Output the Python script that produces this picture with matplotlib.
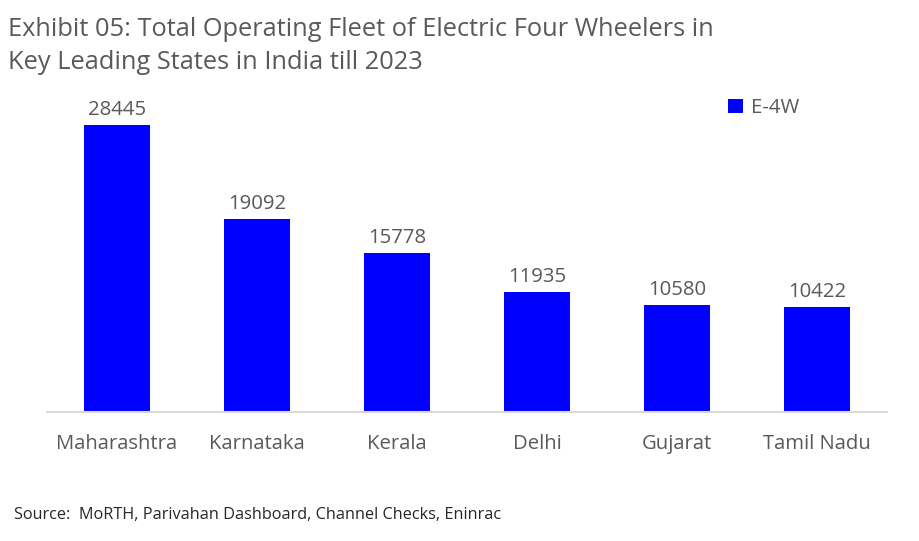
import matplotlib
matplotlib.use("Agg")
import matplotlib.pyplot as plt

states = ["Maharashtra", "Karnataka", "Kerala", "Delhi", "Gujarat", "Tamil Nadu"]
e4w = [28445, 19092, 15778, 11935, 10580, 10422]

title = "Exhibit 05: Total Operating Fleet of Electric Four Wheelers in\nKey Leading States in India till 2023"
source = "Source:  MoRTH, Parivahan Dashboard, Channel Checks, Eninrac"

grey = "#595959"
blue = "#0000FF"

plt.rcParams["font.family"] = ["Open Sans", "DejaVu Sans"]

fig = plt.figure(figsize=(9.2, 5.41), dpi=100)
W, H = 920, 541
# axes: x 47..887, y 110..412 (pixels from top)
ax = fig.add_axes([47 / W, 1 - 412 / H, 840 / W, 302 / H])

x = range(len(states))
bars = ax.bar(x, e4w, width=0.465, color=blue, label="E-4W")
ax.set_xlim(-0.5, len(states) - 0.5)
ax.set_ylim(0, 28445 * 302 / 287)

for b, v in zip(bars, e4w):
    ax.text(b.get_x() + b.get_width() / 2, v + 500, str(v), ha="center",
            va="bottom", fontsize=14.7, color=grey)

ax.set_xticks(list(x))
ax.set_xticklabels(states, fontsize=14.6, color=grey)
ax.tick_params(axis="x", length=0, pad=16)
ax.set_yticks([])
for s in ["top", "right", "left"]:
    ax.spines[s].set_visible(False)
ax.spines["bottom"].set_color("#d9d9d9")
ax.spines["bottom"].set_linewidth(1.5)

leg = fig.legend(loc="center left", bbox_to_anchor=(710 / W, 1 - 108 / H),
                 frameon=False, fontsize=14.7, handlelength=0.7,
                 handleheight=0.7, handletextpad=0.4)
for t in leg.get_texts():
    t.set_color(grey)

fig.text(8 / W, 1 - 17 / H, title, ha="left", va="top", fontsize=18.3,
         color=grey, linespacing=1.4)
fig.text(14 / W, 1 - 515 / H, source, ha="left", va="center", fontsize=11.7,
         color="#262626")

fig.savefig("out.png", dpi=100)
